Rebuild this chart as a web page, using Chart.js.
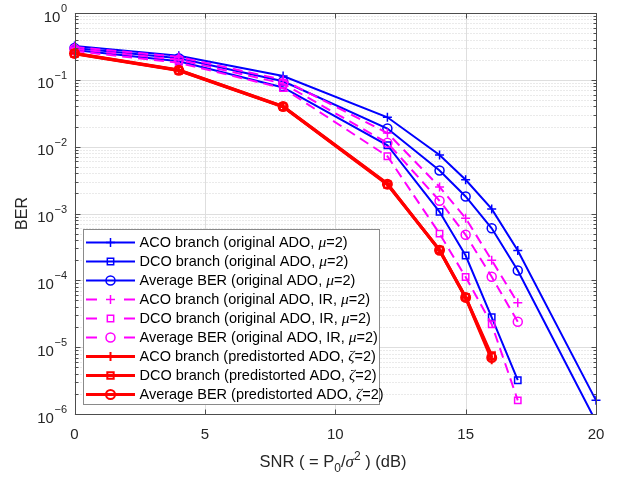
<!DOCTYPE html>
<html>
<head>
<meta charset="utf-8">
<title>BER vs SNR</title>
<script src="https://cdn.jsdelivr.net/npm/chart.js@4.4.0/dist/chart.umd.min.js"></script>
<style>
body { margin: 0; background: #fff; }
#wrap { width: 617px; height: 478px; }
</style>
</head>
<body>
<div id="wrap"><canvas id="ber" width="617" height="478"></canvas></div>
<script>
// SNR points of each group of curves (dB)
var snrOrig = [0, 4, 8, 12, 14, 15, 16, 17, 20];
var snrOrigDco = [0, 4, 8, 12, 14, 15, 16, 17];
var snrIR = [0, 4, 8, 12, 14, 15, 16, 17];
var snrPre = [0, 4, 8, 12, 14, 15, 16];

// BER values
var acoOrig = [0.32, 0.23, 0.114, 0.0275, 0.0075, 0.0032, 0.00117, 2.8e-4, 1.6e-6];
var dcoOrig = [0.28, 0.19, 0.077, 0.0105, 0.00106, 2.35e-4, 2.8e-5, 3.2e-6];
var avgOrig = [0.30, 0.21, 0.095, 0.0187, 0.0044, 0.0018, 6.0e-4, 1.4e-4, 7.7e-7];
var acoIR = [0.31, 0.22, 0.10, 0.016, 0.0025, 8.5e-4, 2.0e-4, 4.6e-5];
var dcoIR = [0.27, 0.18, 0.075, 0.0072, 5.0e-4, 1.12e-4, 2.2e-5, 1.6e-6];
var avgIR = [0.29, 0.20, 0.088, 0.0114, 0.00155, 4.8e-4, 1.13e-4, 2.4e-5];
var acoPre = [0.25, 0.14, 0.040, 0.0028, 2.8e-4, 5.5e-5, 6.5e-6];
var dcoPre = [0.245, 0.138, 0.0395, 0.0027, 2.85e-4, 5.6e-5, 7.5e-6];
var avgPre = [0.248, 0.139, 0.0398, 0.00275, 2.82e-4, 5.55e-5, 7.0e-6];

var xTicks = [0, 5, 10, 15, 20];
var yExponents = [0, -1, -2, -3, -4, -5, -6];

var names = [
    "ACO branch (original ADO, μ=2)",
    "DCO branch (original ADO, μ=2)",
    "Average BER (original ADO, μ=2)",
    "ACO branch (original ADO, IR, μ=2)",
    "DCO branch (original ADO, IR, μ=2)",
    "Average BER (original ADO, IR, μ=2)",
    "ACO branch (predistorted ADO, ζ=2)",
    "DCO branch (predistorted ADO, ζ=2)",
    "Average BER (predistorted ADO, ζ=2)"
];

var FONT = "'Liberation Sans', Arial, sans-serif";
var SERIF = "'Liberation Serif', 'Times New Roman', serif";
var BLUE = "#0000ff", MAG = "#ff00ff", RED = "#ff0000";

function pts(xs, ys) {
    return xs.map(function (x, i) { return { x: x, y: ys[i] }; });
}

function serie(i, xs, ys, color, marker, lw, dash) {
    return {
        label: names[i],
        data: pts(xs, ys),
        borderColor: color,
        borderWidth: lw,
        borderDash: dash || [],
        pointStyle: marker,
        pointRadius: 4.5,
        pointBorderWidth: lw === 3 ? 2 : 1.5,
        pointBorderColor: color,
        pointBackgroundColor: "rgba(0,0,0,0)",
        tension: 0,
        fill: false,
        clip: 8,
        order: 9 - i
    };
}

var datasets = [
    serie(0, snrOrig, acoOrig, BLUE, "cross", 2),
    serie(1, snrOrigDco, dcoOrig, BLUE, "rect", 2),
    serie(2, snrOrig, avgOrig, BLUE, "circle", 2),
    serie(3, snrIR, acoIR, MAG, "cross", 2, [10, 6]),
    serie(4, snrIR, dcoIR, MAG, "rect", 2, [10, 6]),
    serie(5, snrIR, avgIR, MAG, "circle", 2, [10, 6]),
    serie(6, snrPre, acoPre, RED, "cross", 3),
    serie(7, snrPre, dcoPre, RED, "rect", 3),
    serie(8, snrPre, avgPre, RED, "circle", 3)
];
datasets[2].clip = { left: 8, right: 8, top: 8, bottom: 0 };

function marker(ctx, style, x, y, r) {
    ctx.beginPath();
    if (style === "cross") {
        ctx.moveTo(x - r, y); ctx.lineTo(x + r, y);
        ctx.moveTo(x, y - r); ctx.lineTo(x, y + r);
    } else if (style === "rect") {
        var s = r * Math.SQRT1_2;
        ctx.rect(x - s, y - s, 2 * s, 2 * s);
    } else {
        ctx.arc(x, y, r, 0, Math.PI * 2);
    }
    ctx.stroke();
}

function runs(ctx, parts, x, y, align) {
    var total = 0;
    parts.forEach(function (p) { ctx.font = p[1]; total += ctx.measureText(p[0]).width; });
    var cx = align === "center" ? x - total / 2 : (align === "right" ? x - total : x);
    parts.forEach(function (p) {
        ctx.font = p[1];
        ctx.fillText(p[0], cx, y + (p[2] || 0));
        cx += ctx.measureText(p[0]).width;
    });
}

var axesPlugin = {
    id: "matlabAxes",
    beforeDatasetsDraw: function (chart) {
        var ctx = chart.ctx, a = chart.chartArea;
        var xs = chart.scales.x, ys = chart.scales.y;
        ctx.save();
        ctx.lineWidth = 1;
        // minor grid (dotted)
        ctx.strokeStyle = "#d4d4d4";
        ctx.setLineDash([1, 2]);
        yExponents.forEach(function (e) {
            if (e === 0) return;
            for (var m = 2; m <= 9; m++) {
                var py = Math.round(ys.getPixelForValue(m * Math.pow(10, e))) + 0.5;
                ctx.beginPath(); ctx.moveTo(a.left, py); ctx.lineTo(a.right, py); ctx.stroke();
            }
        });
        // major grid
        ctx.setLineDash([]);
        ctx.strokeStyle = "#dedede";
        yExponents.forEach(function (e) {
            var py = Math.round(ys.getPixelForValue(Math.pow(10, e))) + 0.5;
            ctx.beginPath(); ctx.moveTo(a.left, py); ctx.lineTo(a.right, py); ctx.stroke();
        });
        xTicks.forEach(function (t) {
            var px = Math.round(xs.getPixelForValue(t)) + 0.5;
            ctx.beginPath(); ctx.moveTo(px, a.top); ctx.lineTo(px, a.bottom); ctx.stroke();
        });
        ctx.restore();
    },
    afterDatasetsDraw: function (chart) {
        var ctx = chart.ctx, a = chart.chartArea;
        var xs = chart.scales.x, ys = chart.scales.y;
        var L = Math.round(a.left) + 0.5, R = Math.round(a.right) + 0.5;
        var T = Math.round(a.top) + 0.5, B = Math.round(a.bottom) + 0.5;
        ctx.save();
        ctx.strokeStyle = "#4d4d4d";
        ctx.lineWidth = 1;
        ctx.strokeRect(L, T, R - L, B - T);
        // ticks, pointing inward
        ctx.beginPath();
        yExponents.forEach(function (e) {
            var py = Math.round(ys.getPixelForValue(Math.pow(10, e))) + 0.5;
            ctx.moveTo(L, py); ctx.lineTo(L + 5, py);
            ctx.moveTo(R, py); ctx.lineTo(R - 5, py);
            if (e === 0) return;
            for (var m = 2; m <= 9; m++) {
                var q = Math.round(ys.getPixelForValue(m * Math.pow(10, e))) + 0.5;
                ctx.moveTo(L, q); ctx.lineTo(L + 3, q);
                ctx.moveTo(R, q); ctx.lineTo(R - 3, q);
            }
        });
        xTicks.forEach(function (t) {
            var px = Math.round(xs.getPixelForValue(t)) + 0.5;
            ctx.moveTo(px, B); ctx.lineTo(px, B - 5);
            ctx.moveTo(px, T); ctx.lineTo(px, T + 5);
        });
        ctx.stroke();

        // y tick labels 10^n
        ctx.fillStyle = "#262626";
        ctx.textBaseline = "middle";
        ctx.textAlign = "left";
        yExponents.forEach(function (e) {
            var py = ys.getPixelForValue(Math.pow(10, e));
            var ex = e === 0 ? "0" : "\u2212" + (-e);
            ctx.font = "11px " + FONT;
            var w = ctx.measureText(ex).width;
            ctx.fillText(ex, 67 - w, py - 4);
            ctx.font = "15px " + FONT;
            var w2 = ctx.measureText("10").width;
            ctx.fillText("10", 67 - w - w2 - 0.5, py + 4.5);
        });

        // axis titles
        ctx.textBaseline = "alphabetic";
        ctx.save();
        ctx.translate(27, (a.top + a.bottom) / 2);
        ctx.rotate(-Math.PI / 2);
        ctx.font = "16px " + FONT;
        ctx.textAlign = "center";
        ctx.fillText("BER", 0, 0);
        ctx.restore();
        ctx.textAlign = "left";
        var f = "16.5px " + FONT, s = "12px " + FONT;
        runs(ctx, [["SNR ( = P", f], ["0", s, 5], ["/", f], ["σ", "italic 17px " + SERIF], ["2", s, -7], [" ) (dB)", f]],
            333, 467, "center");

        // legend box
        var bx = 83.5, by = 229.5, bw = 296, bh = 175;
        ctx.fillStyle = "#ffffff";
        ctx.fillRect(bx, by, bw, bh);
        ctx.strokeStyle = "#8a8a8a";
        ctx.lineWidth = 1;
        ctx.strokeRect(bx, by, bw, bh);
        chart.data.datasets.forEach(function (ds, i) {
            var y = 242.5 + 19 * i;
            ctx.strokeStyle = ds.borderColor;
            ctx.lineWidth = ds.borderWidth;
            ctx.beginPath();
            if (ds.borderDash.length) {
                ctx.moveTo(86, y); ctx.lineTo(97, y);
                ctx.moveTo(124, y); ctx.lineTo(135, y);
            } else {
                ctx.moveTo(86, y); ctx.lineTo(135, y);
            }
            ctx.stroke();
            ctx.lineWidth = ds.pointBorderWidth;
            marker(ctx, ds.pointStyle, 110.5, y, ds.pointRadius);
            ctx.fillStyle = "#000000";
            ctx.textBaseline = "middle";
            var txt = ds.label, m = txt.search(/[μζ]/);
            var tf = "14.5px " + FONT;
            runs(ctx, [[txt.slice(0, m), tf], [txt.charAt(m), "italic 15.5px " + SERIF], [txt.slice(m + 1), tf]], 139.5, y + 0.5, "left");
        });
        ctx.restore();
    }
};

new Chart(document.getElementById("ber").getContext("2d"), {
    type: "line",
    data: { datasets: datasets },
    options: {
        responsive: false,
        animation: false,
        devicePixelRatio: 1,
        layout: { padding: { top: 13, right: 21, left: 0, bottom: 0 } },
        plugins: { legend: { display: false }, tooltip: { enabled: false } },
        scales: {
            x: {
                type: "linear",
                min: 0,
                max: 20,
                afterBuildTicks: function (scale) {
                    scale.ticks = xTicks.map(function (v) { return { value: v }; });
                },
                afterFit: function (scale) { scale.height = 64; },
                grid: { display: false, drawTicks: false },
                border: { display: false },
                ticks: { color: "#262626", font: { family: FONT, size: 15 }, padding: 12, maxRotation: 0 }
            },
            y: {
                type: "logarithmic",
                min: 1e-6,
                max: 1,
                afterFit: function (scale) { scale.width = 74.5; },
                grid: { display: false, drawTicks: false },
                border: { display: false },
                ticks: { display: false }
            }
        }
    },
    plugins: [axesPlugin]
});
</script>
</body>
</html>
